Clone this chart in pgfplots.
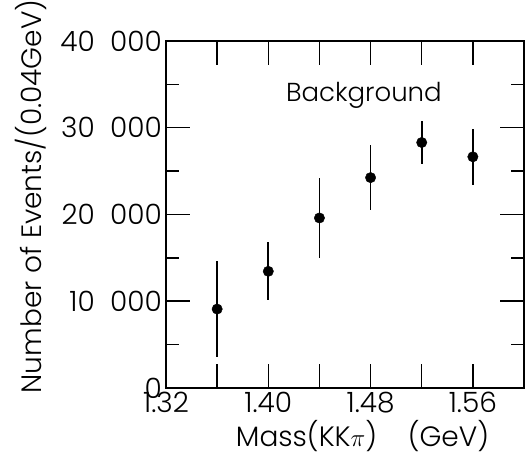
\documentclass[border=0pt]{standalone}
\usepackage{fontspec}
\IfFontExistsTF{Poppins Light}{\setmainfont{Poppins Light}}{\setmainfont{Poppins}}
\usepackage{pgfplots}
\pgfplotsset{compat=1.18}
\pgfplotstableread{
x y e
1.36 9100 5500
1.40 13450 3330
1.44 19600 4650
1.48 24250 3750
1.52 28300 2450
1.56 26650 3260
}\bgdata
\begin{document}
\begin{tikzpicture}
\path[use as bounding box] (0,0) rectangle (526pt,457pt);
\begin{axis}[
  at={(166pt,69pt)}, anchor=south west,
  scale only axis, width=358pt, height=347pt,
  xmin=1.32, xmax=1.60, ymin=0, ymax=40000,
  scaled x ticks=false, scaled y ticks=false,
  xtick={1.32,1.36,1.40,1.44,1.48,1.52,1.56,1.60},
  xticklabels={1.32,,1.40,,1.48,,1.56,},
  ytick={0,10000,20000,30000,40000},
  yticklabels={0,10\hspace{.55em}000,20\hspace{.55em}000,30\hspace{.55em}000,40\hspace{.55em}000},
  minor ytick={5000,15000,25000,35000},
  tick align=inside,
  major tick length=24pt,
  minor tick length=13pt,
  every axis/.append style={line width=1.4pt},
  tick style={black, line width=1.5pt},
  font=\fontsize{28}{32}\selectfont,
  xlabel={Mass(KK$\pi$)\hspace{1.1em}(GeV)},
  ylabel={Number of Events/(0.04GeV)},
  xlabel style={at={(rel axis cs:0.549,-0.137)}, anchor=center},
  ylabel style={at={(rel axis cs:-0.377,0.552)}, anchor=center},
]
\addplot[black, only marks, mark=*, mark size=5.2pt, mark options={line width=0.4pt},
  error bars/.cd, y dir=both, y explicit, error mark=none,
  error bar style={line width=1.8pt}]
  table[x=x, y=y, y error=e] {\bgdata};
\node[anchor=base, font=\fontsize{26}{30}\selectfont] at (axis cs:1.4748,33000) {Background};
\end{axis}
\end{tikzpicture}
\end{document}
